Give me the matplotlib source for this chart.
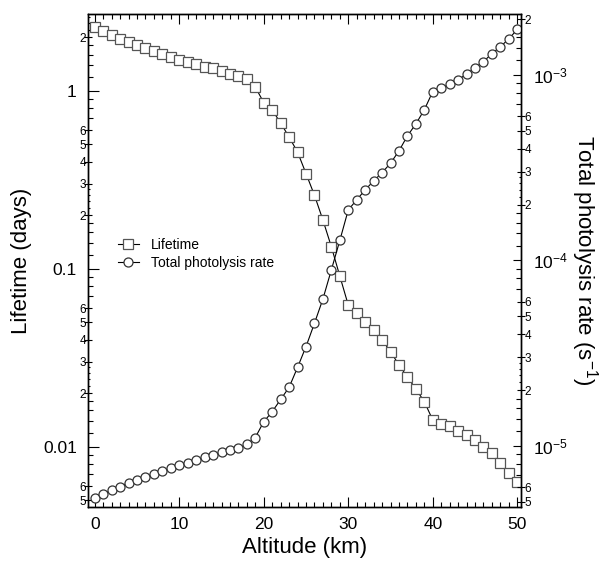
import numpy as np
import matplotlib
matplotlib.use("Agg")
import matplotlib.pyplot as plt
from matplotlib.ticker import FixedLocator, FuncFormatter

plt.rcParams['font.family'] = ['Liberation Sans', 'DejaVu Sans']
plt.rcParams['mathtext.fontset'] = 'custom'
plt.rcParams['mathtext.rm'] = 'Liberation Sans'
plt.rcParams['mathtext.it'] = 'Liberation Sans:italic'

# data
altitude = np.arange(0, 51)
lifetime = [2.28, 2.17, 2.06, 1.95, 1.88, 1.81, 1.74, 1.67, 1.62, 1.55,
            1.50, 1.46, 1.41, 1.36, 1.34, 1.29, 1.25, 1.21, 1.16, 1.05,
            0.86, 0.78, 0.66, 0.55, 0.453, 0.343, 0.259, 0.188, 0.133, 0.0910,
            0.0625, 0.0561, 0.0504, 0.0453, 0.0398, 0.0342, 0.0288, 0.0246, 0.0211, 0.0179,
            0.0141, 0.0134, 0.0130, 0.0123, 0.0116, 0.0109, 0.0100, 0.00918, 0.00807, 0.00715,
            0.00636]
photolysis = [5.22e-6, 5.50e-6, 5.79e-6, 6.04e-6, 6.34e-6, 6.56e-6, 6.78e-6, 7.06e-6, 7.33e-6, 7.58e-6,
              7.90e-6, 8.13e-6, 8.41e-6, 8.69e-6, 8.94e-6, 9.24e-6, 9.51e-6, 9.72e-6, 1.02e-5, 1.11e-5,
              1.35e-5, 1.53e-5, 1.78e-5, 2.07e-5, 2.65e-5, 3.43e-5, 4.58e-5, 6.19e-5, 8.89e-5, 1.28e-4,
              1.87e-4, 2.12e-4, 2.40e-4, 2.68e-4, 2.97e-4, 3.34e-4, 3.89e-4, 4.69e-4, 5.44e-4, 6.48e-4,
              8.13e-4, 8.48e-4, 8.91e-4, 9.40e-4, 1.01e-3, 1.09e-3, 1.18e-3, 1.30e-3, 1.42e-3, 1.56e-3,
              1.76e-3]

left_major = [0.01, 0.1, 1]
left_major_labels = ['0.01', '0.1', '1']
right_major = [1e-5, 1e-4, 1e-3]
right_major_labels = [r'$\mathregular{10^{-5}}$', r'$\mathregular{10^{-4}}$', r'$\mathregular{10^{-3}}$']
mults = [1.2, 1.4, 1.6, 1.8, 2, 2.2, 2.4, 2.6, 2.8, 3, 4, 5, 6, 7, 8, 9]
labelled = [2, 3, 4, 5, 6]
tiny = [2.2, 2.4, 2.6, 2.8]


def mantissa(v):
    return round(v / 10 ** np.floor(np.log10(v) + 1e-9), 1)


def minor_fmt(v, pos):
    m = mantissa(v)
    return str(int(m)) if m in labelled else ''


def style_minor(axis, locs, left):
    ticks = axis.get_minor_ticks(len(locs))
    for t, v in zip(ticks, locs):
        line = t.tick1line if left else t.tick2line
        m = mantissa(v)
        if m in labelled:
            line.set_marker('_')
            line.set_markersize(6)
        elif m in tiny:
            line.set_markersize(1.5)
        else:
            line.set_markersize(3.5)


fig = plt.figure(figsize=(6.11, 5.62), dpi=100)
ax = fig.add_axes([0.144, 0.098, 0.7095, 0.8772])
ax2 = ax.twinx()

l1, = ax.plot(altitude, lifetime, color='black', lw=0.8, marker='s', ms=6.5,
              mfc='white', mec='#555555', mew=0.9, label='Lifetime')
l2, = ax2.plot(altitude, photolysis, color='black', lw=0.8, marker='o', ms=6.5,
               mfc='white', mec='#333333', mew=0.9, label='Total photolysis rate')

ax.set_xlim(-0.8, 50.5)
ax.set_yscale('log')
ax.set_ylim(0.00458, 2.708)
ax2.set_yscale('log')
ax2.set_ylim(4.69e-6, 2.13e-3)

ax.set_xticks(np.arange(0, 51, 10))
ax.set_xticks(np.arange(0, 51, 1), minor=True)
ax.tick_params(axis='x', which='both', direction='in', top=True, labelsize=12.5, pad=7)
ax.tick_params(axis='x', which='major', length=7, width=0.8)
ax.tick_params(axis='x', which='minor', length=3.5, width=0.8)

left_minor = [m * d for d in [0.001, 0.01, 0.1, 1] for m in mults]
left_minor = [v for v in left_minor if 0.00458 <= v <= 2.708]
ax.yaxis.set_major_locator(FixedLocator(left_major))
ax.yaxis.set_major_formatter(FuncFormatter(lambda v, p: left_major_labels[left_major.index(v)] if v in left_major else ''))
ax.yaxis.set_minor_locator(FixedLocator(left_minor))
ax.yaxis.set_minor_formatter(FuncFormatter(minor_fmt))
ax.tick_params(axis='y', which='both', direction='in', right=False, width=0.8)
ax.tick_params(axis='y', which='major', length=8, labelsize=12.5, pad=8)
ax.tick_params(axis='y', which='minor', labelsize=8.5, pad=1.5)
style_minor(ax.yaxis, left_minor, True)

right_minor = [m * d for d in [1e-6, 1e-5, 1e-4, 1e-3] for m in mults]
right_minor = [v for v in right_minor if 4.69e-6 <= v <= 2.13e-3]
ax2.yaxis.set_major_locator(FixedLocator(right_major))
ax2.yaxis.set_major_formatter(FuncFormatter(lambda v, p: right_major_labels[int(round(np.log10(v))) + 5]))
ax2.yaxis.set_minor_locator(FixedLocator(right_minor))
ax2.yaxis.set_minor_formatter(FuncFormatter(minor_fmt))
ax2.tick_params(axis='y', which='both', direction='in', left=False, width=0.8)
ax2.tick_params(axis='y', which='major', length=6, labelsize=12.5, pad=8)
ax2.tick_params(axis='y', which='minor', labelsize=8.5, pad=2)
style_minor(ax2.yaxis, right_minor, False)

for a in (ax, ax2):
    for s in a.spines.values():
        s.set_linewidth(1.0)

ax.set_xlabel('Altitude (km)', fontsize=16)
ax.set_ylabel('Lifetime (days)', fontsize=16)
ax.yaxis.set_label_coords(-0.129, 0.5)
ax2.set_ylabel(r'Total photolysis rate (s$^{\mathregular{-1}}$)', fontsize=16, rotation=270, va='center')
ax2.yaxis.set_label_coords(1.146, 0.5)

ax2.legend(handles=[l1, l2], loc='upper left', bbox_to_anchor=(0.069, 0.545), frameon=False,
           fontsize=10, handlelength=1.5, handletextpad=0.9, labelspacing=0.25,
           borderpad=0, borderaxespad=0)

fig.savefig('out.png', dpi=100)
